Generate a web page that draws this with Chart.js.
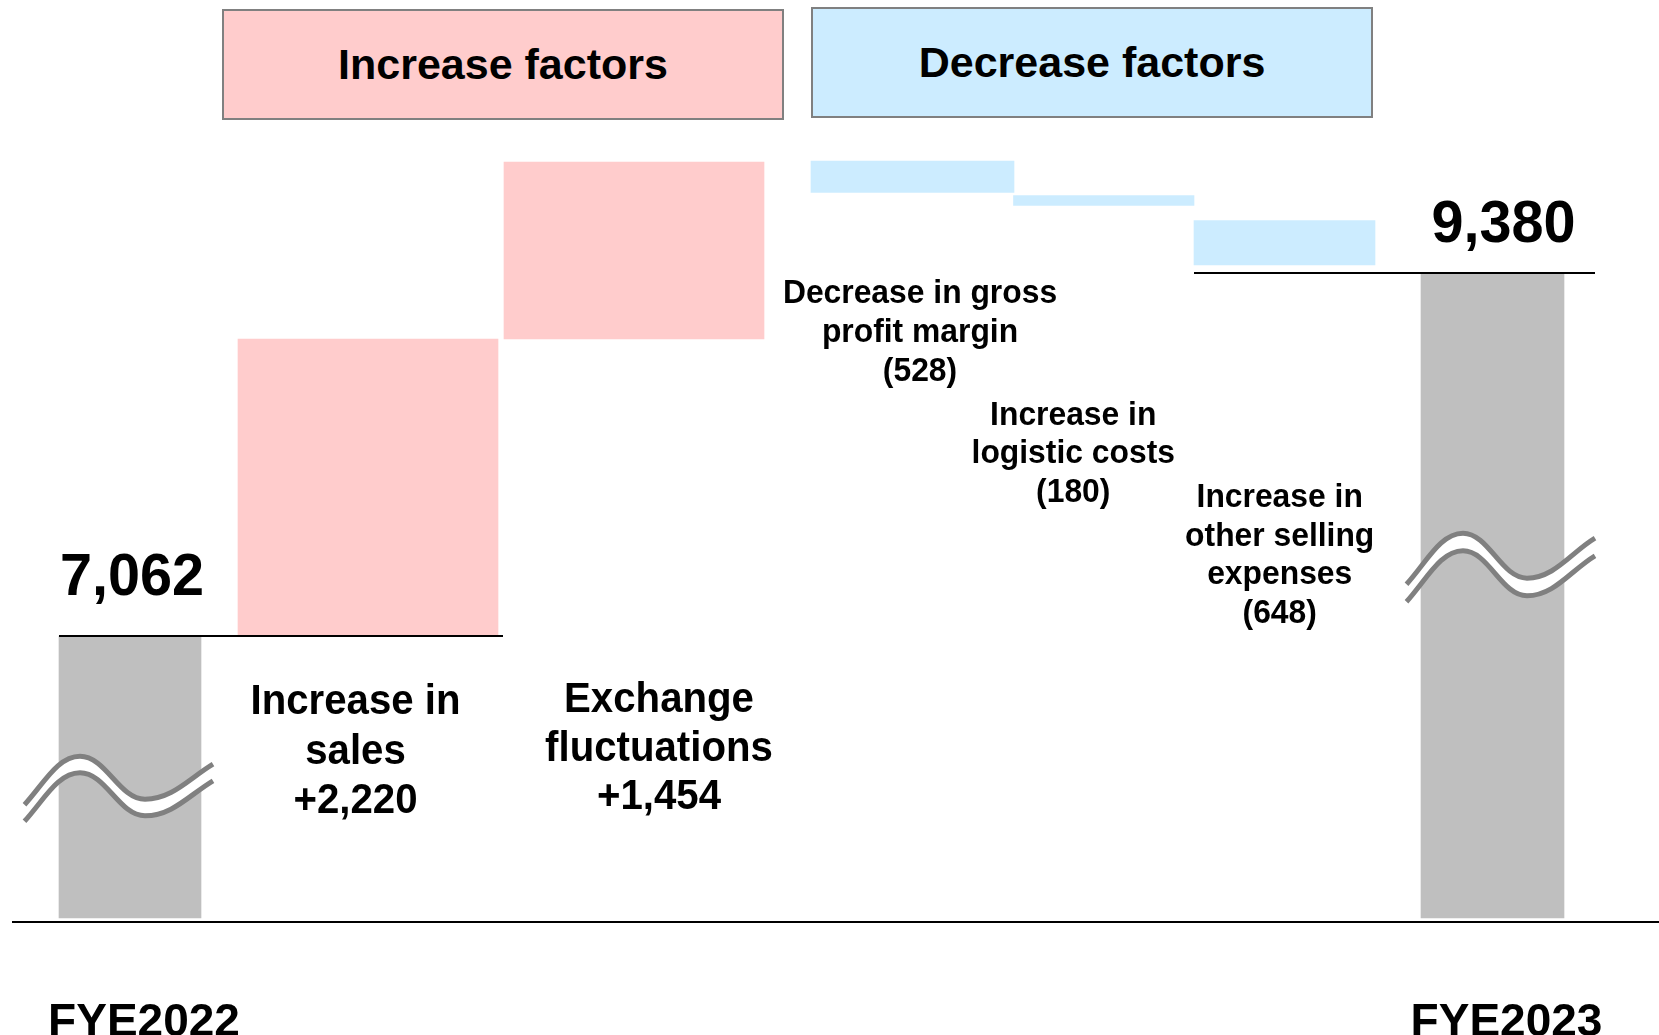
<!DOCTYPE html>
<html>
<head>
<meta charset="utf-8">
<script src="https://cdn.jsdelivr.net/npm/chart.js@4.4.0/dist/chart.umd.min.js"></script>
<style>
    html, body { margin: 0; padding: 0; background: #fff; }
    #wrap { position: relative; width: 1659px; height: 1035px; overflow: hidden; }
    #wrap canvas { position: absolute; left: 0; top: 0; }
    .factor {
        position: absolute; box-sizing: border-box; border: 2px solid #808080;
        display: flex; align-items: center; justify-content: center;
        font: bold 43px "Liberation Sans", Arial, sans-serif; color: #000;
    }
    .inc { left: 222px; top: 9px; width: 562px; height: 111px; background: #FFCCCC; }
    .dec { left: 811px; top: 7px; width: 562px; height: 111px; background: #CCECFF; }
</style>
</head>
<body>
<div id="wrap">
    <canvas id="myChart" width="1659" height="1035"></canvas>
    <div class="factor inc">Increase factors</div>
    <div class="factor dec">Decrease factors</div>
</div>
<script>
// data
const categories = [
    ['FYE2022'],
    ['Increase in', 'sales'],
    ['Exchange', 'fluctuations'],
    ['Decrease in gross', 'profit margin'],
    ['Increase in', 'logistic costs'],
    ['Increase in', 'other selling', 'expenses'],
    ['FYE2023'],
];
const amounts = [7062, 2220, 1454, -528, -180, -648, 9380];
const kinds = ['total', 'up', 'up', 'down', 'down', 'down', 'total'];
// bar extents on the broken (unlabelled) value axis, as drawn on the slide
const barFrom = [4, 286, 583, 729.5, 716.5, 657, 4];
const barTo = [286, 583, 760, 761, 726.5, 701.5, 649];
const periodLabels = ['FYE2022', 'FYE2023'];

// layout
const barCenter = [130, 368, 634, 912.5, 1103.75, 1284.5, 1492.5];
const barWidth = [142, 260, 260, 203, 180.5, 181, 143];
const colors = { total: '#BFBFBF', up: '#FFCCCC', down: '#CCECFF' };
const FONT = '"Liberation Sans", Arial, sans-serif';

// where each factor caption sits, relative to its bar (dy from the bar base)
const captionSpot = [
    null,
    { dx: -12.5, dy: 78, size: 43, lead: 49.5, sx: 0.935 },
    { dx: 25, dy: 372.8, size: 43, lead: 48.7, sx: 0.935 },
    { dx: 7.5, dy: 110.7, size: 33.5, lead: 39, sx: 0.95 },
    { dx: -30.5, dy: 219.2, size: 33.5, lead: 38.6, sx: 0.95 },
    { dx: -4.8, dy: 241.7, size: 33.5, lead: 38.8, sx: 0.95 },
    null,
];

// axis-break marks: x offsets from bar centre, y in pixels, h = half gap of the double line
const breaks = [
    { bar: 0, dx: [-105.5, -50, 15, 83], y: [813, 764.5, 807.5, 772.5], h: 8.3 },
    { bar: 6, dx: [-86, -29.5, 34.5, 102.5], y: [593, 542, 587, 547], h: 8.8 },
];

const fmt = (v, kind) => {
    const s = Math.abs(v).toLocaleString('en-US');
    if (kind === 'total') return s;
    return v < 0 ? '(' + s + ')' : '+' + s;
};

function drawText(ctx, str, x, y, size, sx) {
    ctx.save();
    ctx.font = `bold ${size}px ${FONT}`;
    ctx.textAlign = 'center';
    ctx.textBaseline = 'alphabetic';
    ctx.fillStyle = '#000';
    ctx.translate(x, y);
    ctx.scale(sx || 1, 1);
    ctx.fillText(str, 0, 0);
    ctx.restore();
}

// wave through start, crest, trough, end as three cubic segments
function waveSegments(p) {
    const [a, b, c, d] = p;
    const s1 = b.x - a.x, s2 = c.x - b.x, s3 = d.x - c.x;
    return [
        [a, { x: a.x + 0.35 * s1, y: a.y - 0.35 * s1 * 1.1 }, { x: b.x - 0.4 * s1, y: b.y }, b],
        [b, { x: b.x + 0.4 * s2, y: b.y }, { x: c.x - 0.4 * s2, y: c.y }, c],
        [c, { x: c.x + 0.4 * s3, y: c.y }, { x: d.x - 0.35 * s3, y: d.y + 0.35 * s3 * 0.6 }, d],
    ];
}

function traceWave(ctx, segs, off, reverse) {
    if (!reverse) {
        segs.forEach(([p0, c1, c2, p1]) => ctx.bezierCurveTo(c1.x, c1.y + off, c2.x, c2.y + off, p1.x, p1.y + off));
    } else {
        segs.slice().reverse().forEach(([p0, c1, c2]) => ctx.bezierCurveTo(c2.x, c2.y + off, c1.x, c1.y + off, p0.x, p0.y + off));
    }
}

const extras = {
    id: 'extras',
    afterDraw(chart) {
        const ctx = chart.ctx;
        const bars = chart.data.datasets.map((d, i) => chart.getDatasetMeta(i).data[0]);

        // axis-break squiggles over the total bars
        breaks.forEach(b => {
            const cx = bars[b.bar].x;
            const pts = b.dx.map((dx, i) => ({ x: cx + dx, y: b.y[i] }));
            const segs = waveSegments(pts);
            const a = pts[0], d = pts[3];
            ctx.save();
            ctx.beginPath();
            ctx.moveTo(a.x, a.y - b.h);
            traceWave(ctx, segs, -b.h, false);
            ctx.lineTo(d.x, d.y + b.h);
            traceWave(ctx, segs, b.h, true);
            ctx.closePath();
            ctx.fillStyle = '#FFFFFF';
            ctx.fill();
            ctx.strokeStyle = '#808080';
            ctx.lineWidth = 5;
            ctx.lineCap = 'butt';
            [-b.h, b.h].forEach(off => {
                ctx.beginPath();
                ctx.moveTo(a.x, a.y + off);
                traceWave(ctx, segs, off, false);
                ctx.stroke();
            });
            ctx.restore();
        });

        // level lines at the two totals
        const b0 = bars[0], b1 = bars[1], b5 = bars[5], b6 = bars[6];
        ctx.save();
        ctx.strokeStyle = '#000';
        ctx.lineWidth = 2;
        ctx.beginPath();
        ctx.moveTo(b0.x - b0.width / 2, b0.y);
        ctx.lineTo(b1.x + b1.width / 2 + 5, b0.y);
        ctx.moveTo(b5.x - b5.width / 2, b6.y);
        ctx.lineTo(b6.x + b6.width / 2 + 31, b6.y);
        ctx.stroke();
        ctx.restore();

        // total values
        drawText(ctx, fmt(amounts[0], 'total'), b0.x + 2, b0.y - 41, 60, 0.96);
        drawText(ctx, fmt(amounts[6], 'total'), b6.x + 11, b6.y - 31, 60, 0.96);

        // factor captions
        captionSpot.forEach((s, i) => {
            if (!s) return;
            const bar = bars[i];
            const lines = categories[i].concat(fmt(amounts[i], kinds[i]));
            lines.forEach((t, k) => {
                drawText(ctx, t, bar.x + s.dx, bar.base + s.dy + k * s.lead, s.size, s.sx);
            });
        });
    }
};

new Chart(document.getElementById('myChart').getContext('2d'), {
    type: 'bar',
    data: {
        datasets: categories.map((c, i) => ({
            label: c.join(' '),
            data: [{ x: barCenter[i], y: [barFrom[i], barTo[i]] }],
            backgroundColor: colors[kinds[i]],
            borderWidth: 0,
            barThickness: barWidth[i],
            grouped: false,
        })),
    },
    options: {
        responsive: false,
        animation: false,
        layout: { padding: { left: 13, right: 0, top: 0, bottom: 0 } },
        plugins: { legend: { display: false }, tooltip: { enabled: false } },
        scales: {
            x: {
                type: 'linear',
                offset: false,
                min: 13,
                max: 1659,
                grid: { display: false },
                border: { display: true, color: '#000', width: 2 },
                afterBuildTicks: s => { s.ticks = [barCenter[0], barCenter[6]].map(v => ({ value: v })); },
                afterFit: s => { s.height = 113; s.paddingLeft = 0; s.paddingRight = 0; },
                ticks: {
                    callback: (v, i) => periodLabels[i],
                    font: { family: FONT, size: 46, weight: 'bold' },
                    color: '#000',
                    padding: 66,
                    labelOffset: 14,
                    maxRotation: 0,
                    autoSkip: false,
                },
            },
            y: { display: false, min: 0, max: 922 },
        },
    },
    plugins: [extras],
});
</script>
</body>
</html>
